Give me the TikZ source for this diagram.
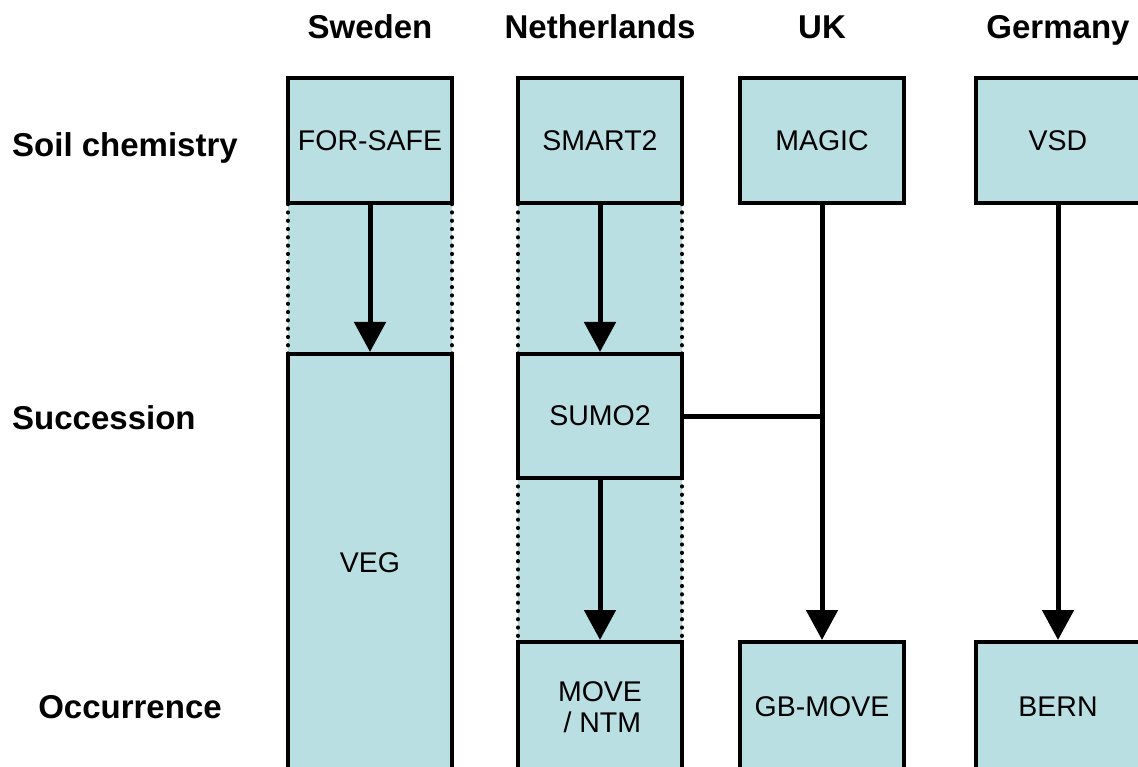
\documentclass[tikz,border=0pt]{standalone}
\usepackage{fontspec}
\setmainfont{Liberation Sans}
\usetikzlibrary{arrows.meta}
\definecolor{boxblue}{RGB}{185,223,227}
\begin{document}
\begin{tikzpicture}[x=1pt,y=-1pt,
  model/.style={draw=black, line width=4pt, fill=boxblue, minimum width=164pt, minimum height=125pt, inner sep=0pt, font=\fontsize{28.5}{30}\selectfont, align=center},
  head/.style={font=\bfseries\fontsize{33}{40}\selectfont, inner sep=0pt, anchor=base},
  flow/.style={line width=5pt, -{Triangle[length=30pt,width=31pt]}},
  link/.style={line width=5pt},
  dots/.style={line width=4pt, dash pattern=on 0.3pt off 8pt, line cap=round}]
\useasboundingbox (0,0) rectangle (1138,767);
% dotted bands
\fill[boxblue] (288,204) rectangle (452,354);
\draw[dots] (288,204) -- (288,354);
\draw[dots] (452,204) -- (452,354);
\fill[boxblue] (518,204) rectangle (682,354);
\draw[dots] (518,204) -- (518,354);
\draw[dots] (682,204) -- (682,354);
\fill[boxblue] (518,478) rectangle (682,642);
\draw[dots] (518,478) -- (518,642);
\draw[dots] (682,478) -- (682,642);
% headers
\node[head] (hse) at (370,39) {Sweden};
\node[head] (hnl) at (600,39) {Netherlands};
\node[head] (huk) at (822,39) {UK};
\node[head] (hde) at (1058,39) {Germany};
\node[head, anchor=base west] (rsoil) at (12,157) {Soil chemistry};
\node[head, anchor=base west] (rsucc) at (12,429) {Succession};
\node[head] (rocc) at (130,718) {Occurrence};
% models
\node[model, text height=20pt, text depth=0pt] (forsafe) at (370,141) {FOR-SAFE};
\node[model, text height=20pt, text depth=0pt] (smart) at (600,141) {SMART2};
\node[model, text height=20pt, text depth=0pt] (magic) at (822,141) {MAGIC};
\node[model, text height=20pt, text depth=0pt] (vsd) at (1058,141) {VSD};
\node[model, minimum height=418pt] (veg) at (370,563) {VEG};
\node[model, minimum height=124pt] (sumo) at (600,416) {SUMO2};
\node[model, minimum height=130pt] (move) at (600,707) {MOVE\\[1pt]\,/ NTM};
\node[model, minimum height=130pt] (gbmove) at (822,707) {GB-MOVE};
\node[model, minimum height=130pt] (bern) at (1058,707) {BERN};
% connectors
\draw[flow] (forsafe) -- (veg);
\draw[flow] (smart) -- (sumo);
\draw[flow] (sumo) -- (move);
\draw[flow] (magic) -- (gbmove);
\draw[flow] (vsd) -- (bern);
\coordinate (j) at (822,416);
\draw[link] (sumo.east) -- (j);
\end{tikzpicture}
\end{document}
